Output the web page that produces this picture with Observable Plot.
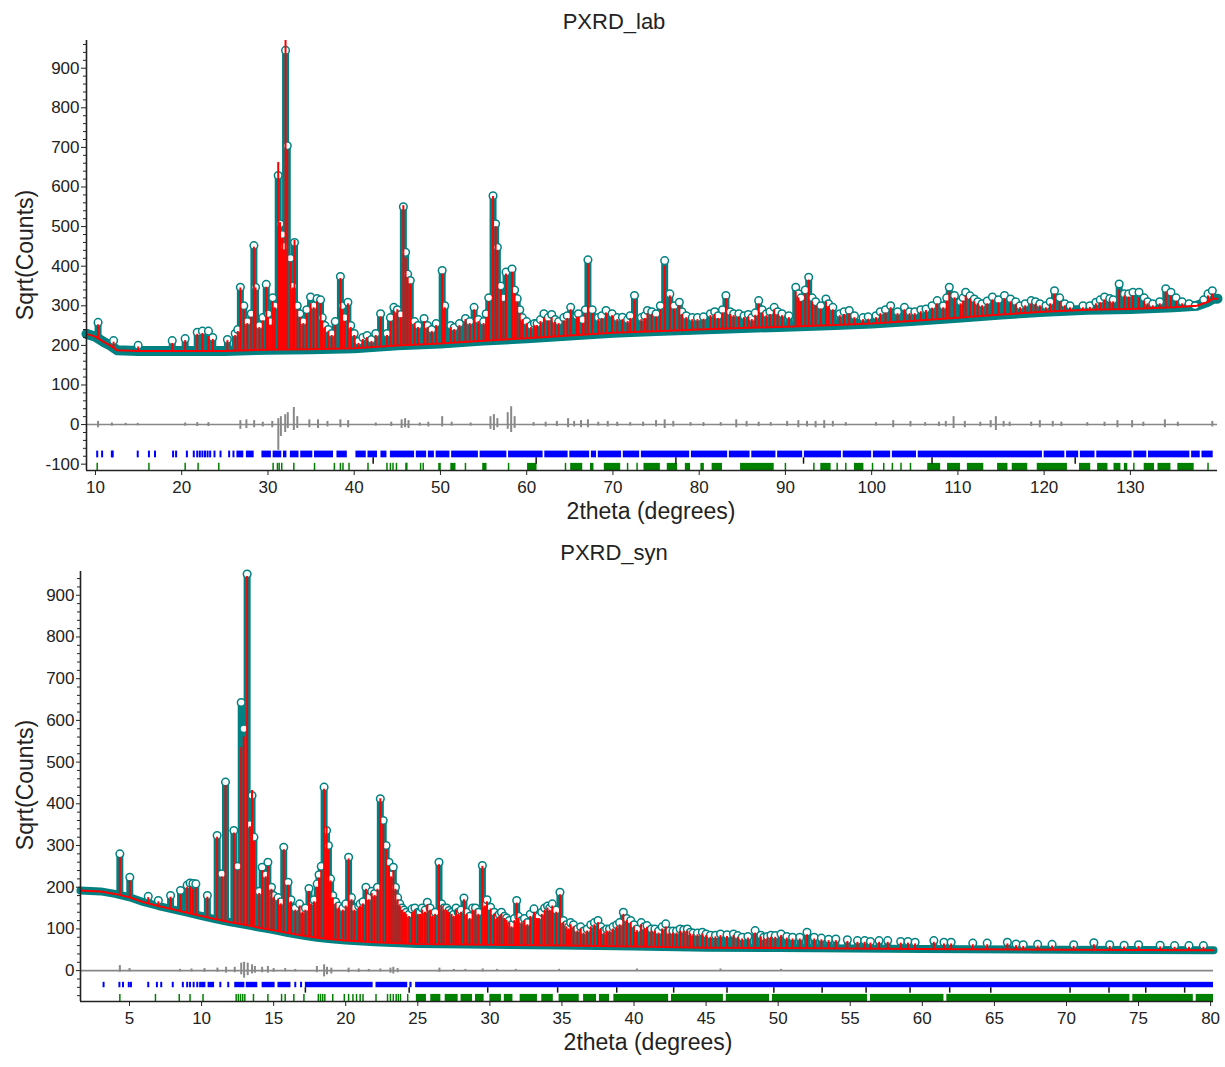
<!DOCTYPE html>
<html>
<head>
<meta charset="utf-8">
<script src="https://cdn.jsdelivr.net/npm/d3@7"></script>
<script src="https://cdn.jsdelivr.net/npm/@observablehq/plot@0.6"></script>
<style>
  body { margin: 0; background: #fff; font-family: "Liberation Sans", Arial, sans-serif; }
  #wrap { position: relative; width: 1225px; height: 1067px; overflow: hidden; }
  .panel { position: absolute; left: 0; }
  .lbl { position: absolute; color: #222; white-space: nowrap; transform: translate(-50%, -50%); font-size: 23px; }
  .rot { transform: translate(-50%, -50%) rotate(-90deg); }
</style>
</head>
<body>
<div id="wrap"></div>
<script>
// ---------------- PXRD_lab data ----------------
const labTitle = "PXRD_lab";
const labXTicks = [10, 20, 30, 40, 50, 60, 70, 80, 90, 100, 110, 120, 130];
const labYTicks = [-100, 0, 100, 200, 300, 400, 500, 600, 700, 800, 900];
// calculated background (2theta, sqrt counts)
const labBg = [[8.96,229],[10,222],[11,208],[11.7,200],[12.5,188],[15,186],[20,186],[25,186],[30,189],[35,190],[40,193],[45,200],[50,205],[55,212],[60,218],[65,225],[70,232],[75,236],[80,240],[85,244],[90,247],[95,251],[100,255],[105,262],[110,270],[115,278],[120,285],[125,290],[130,292],[135,296],[137.7,300],[139,310],[139.6,318],[140.1,318]];
// peaks: [2theta, observed top, calculated top]
const labPeaks = [[10.3,258,252],[12.1,212,208],[14.95,200,196],[18.9,212,205],[20.4,217,212],[21.8,233,228],[22.4,236,230],[23.1,236,222],[23.6,220,215],[25.3,215,212],[26.2,230,225],[26.5,240,235],[26.8,347,345],[27.2,300,290],[27.6,260,255],[28.06,280,271],[28.37,452,448],[28.56,347,345],[29.0,250,245],[29.4,270,262],[29.8,354,347],[30.0,280,270],[30.3,260,250],[30.55,320,310],[30.8,300,295],[31.19,629,662],[31.4,507,510],[31.66,480,470],[31.9,450,440],[32.04,945,975],[32.24,704,692],[32.6,420,410],[32.9,350,345],[33.08,460,465],[33.4,300,290],[33.7,280,270],[34.1,260,255],[34.5,290,280],[34.94,322,305],[35.3,300,295],[35.7,318,310],[36.1,315,305],[36.3,270,262],[36.6,250,245],[37.0,240,235],[37.4,230,225],[37.8,260,250],[38.4,374,369],[38.6,300,290],[38.9,270,260],[39.27,309,305],[39.6,250,245],[40.0,230,225],[40.5,210,205],[41.0,220,215],[41.5,225,220],[42.0,215,210],[42.5,230,225],[43.06,280,272],[43.8,230,225],[44.2,270,260],[44.6,296,285],[45.0,290,290],[45.4,278,270],[45.7,550,553],[45.96,435,420],[46.2,380,370],[46.5,364,355],[47.0,260,255],[47.4,250,245],[48.1,268,260],[48.5,250,245],[49.0,240,235],[49.5,255,250],[50.2,389,380],[50.5,300,295],[51.2,250,245],[51.6,245,240],[52.2,255,250],[52.9,268,265],[53.4,260,255],[53.9,296,290],[54.4,265,260],[55.0,260,255],[55.3,280,270],[55.6,320,310],[56.1,578,576],[56.4,507,500],[56.6,448,440],[57.0,350,340],[57.3,320,310],[57.6,385,380],[58.3,393,385],[58.6,340,330],[58.9,318,310],[59.2,290,280],[59.5,270,265],[60.0,260,255],[60.5,250,245],[60.9,255,250],[61.2,255,250],[61.6,265,260],[62.0,280,270],[62.5,270,262],[62.9,278,270],[63.3,265,258],[63.7,260,255],[64.3,270,262],[64.7,275,268],[65.1,296,290],[65.8,275,270],[66.0,280,272],[66.5,265,255],[66.8,290,280],[67.1,416,406],[67.6,290,280],[68.3,270,265],[68.7,275,268],[69.2,288,282],[69.9,280,275],[70.5,270,265],[71.1,271,265],[71.7,265,260],[72.0,275,268],[72.5,326,315],[73.3,270,265],[73.7,275,268],[74.0,288,280],[74.5,285,278],[75.0,280,272],[75.5,300,290],[76.0,414,400],[76.6,330,325],[77.1,300,292],[77.7,309,300],[78.0,285,278],[78.5,275,270],[79.2,270,265],[79.8,270,265],[80.5,272,266],[81.3,280,275],[81.8,285,278],[82.2,275,268],[82.7,290,282],[83.1,326,318],[83.6,285,278],[84.0,280,275],[84.6,280,272],[85.2,275,270],[85.7,278,272],[86.1,270,265],[86.5,282,276],[86.9,313,305],[87.3,290,282],[87.8,280,275],[88.2,285,278],[88.7,296,290],[89.1,285,278],[89.6,280,275],[90.4,275,270],[91.2,347,335],[91.5,330,320],[91.8,320,310],[92.3,340,330],[92.7,372,365],[93.1,320,310],[93.5,310,300],[94.1,300,292],[94.7,317,310],[95.0,305,298],[95.5,296,290],[96.3,280,275],[96.8,285,278],[97.4,288,280],[98.0,275,270],[99.0,270,265],[99.6,272,266],[100.5,275,270],[101.0,285,280],[101.6,290,282],[102.2,300,295],[103.0,285,280],[103.8,296,290],[104.4,285,280],[105.0,285,280],[105.7,290,285],[106.3,292,288],[107.0,300,294],[107.6,313,305],[108.3,300,295],[108.7,320,312],[109.0,347,335],[109.6,326,320],[110.3,310,305],[110.6,320,312],[110.9,334,325],[111.4,325,318],[111.9,317,310],[112.3,310,305],[112.8,305,300],[113.4,312,305],[114.0,322,315],[114.7,315,308],[115.4,326,318],[116.1,317,310],[116.7,310,304],[117.2,300,295],[117.8,305,300],[118.5,313,305],[119.0,310,304],[119.5,305,300],[120.2,300,295],[120.7,310,305],[121.2,338,330],[121.8,320,310],[122.4,305,300],[123.0,300,295],[124.5,300,295],[125.3,300,296],[126.0,309,305],[126.5,315,308],[127.0,322,315],[127.6,318,310],[128.0,315,310],[128.7,355,340],[129.3,330,325],[129.8,330,322],[130.3,334,325],[131.0,334,320],[131.6,320,312],[132.0,310,305],[132.6,305,300],[133.4,310,305],[134.1,343,335],[134.7,334,325],[135.3,320,312],[136.0,310,305],[136.8,305,300],[137.5,300,296],[138.5,315,308],[139.0,330,325],[139.5,338,330]];
// difference curve spikes: [2theta, low, high]
const labDiff = [[10.3,-8,8],[11.9,-4,4],[13.5,-3,3],[14.9,-3,3],[20.4,-4,4],[21.8,-5,5],[23.1,-5,5],[26.8,-12,10],[27.5,-10,12],[28.4,-8,10],[29.4,-6,6],[30.5,-8,8],[31.2,-65,15],[31.5,-30,20],[32.0,-20,25],[32.3,-10,30],[33.0,-15,43],[33.4,-10,20],[34.8,-8,12],[35.8,-10,12],[36.9,-6,8],[38.4,-8,12],[39.3,-8,10],[42.5,-4,4],[44.3,-5,6],[45.5,-10,12],[45.9,-8,15],[46.3,-10,10],[47.6,-4,4],[48.6,-6,6],[50.2,-6,20],[51.3,-4,6],[53.5,-4,4],[55.8,-12,20],[56.2,-15,25],[56.6,-8,15],[57.8,-12,30],[58.2,-20,45],[58.6,-10,20],[60.8,-4,5],[62.2,-6,6],[63.5,-5,8],[64.8,-8,15],[65.5,-6,8],[66.3,-8,10],[67.1,-8,12],[68.3,-4,6],[69.4,-6,8],[70.5,-5,6],[72.0,-4,5],[73.5,-5,6],[75.0,-6,10],[76.0,-10,12],[77.0,-6,8],[79.0,-4,5],[80.5,-5,5],[82.5,-4,5],[84.3,-8,12],[85.5,-6,8],[86.9,-5,6],[88.3,-4,5],[90.2,-5,8],[91.5,-8,10],[92.5,-6,8],[93.5,-8,8],[94.5,-10,10],[95.5,-6,8],[97.0,-4,5],[100.5,-4,5],[102.5,-8,10],[104.5,-6,8],[106.2,-4,5],[107.8,-5,6],[108.6,-6,8],[109.5,-10,20],[110.8,-8,8],[112.6,-5,6],[113.8,-8,10],[114.4,-15,20],[115.3,-6,8],[116.0,-5,6],[118.5,-5,6],[119.5,-8,10],[121.0,-6,8],[122.0,-5,6],[125.0,-4,5],[127.0,-5,6],[128.5,-8,10],[130.2,-8,10],[131.5,-5,6],[134.0,-8,12],[135.5,-5,6],[139.5,-6,8]];
// reflection markers
const labBlueTicks = [10.2,10.77,11.9,12.0,14.9,16.2,16.9,19.0,19.35,20.6,21.4,21.8,22.1,22.4,22.7,23.0,23.3,23.8,24.5,25.5,26.0];
const labBlueSegs = [[26.4,27.2],[27.5,28.4],[29.3,30.4],[30.6,31.6],[31.8,32.2],[32.6,33.6],[33.8,35.2],[35.4,37.6],[38.0,39.2],[40.2,41.4],[41.6,42.7],[43.1,43.8],[44.2,47.0],[47.2,48.4],[48.6,49.3],[49.5,51.1],[51.3,54.4],[54.6,57.7],[57.9,61.9],[62.1,64.8],[65.0,67.3],[67.5,68.1],[68.3,71.0],[71.2,73.1],[73.3,78.9],[79.1,83.3],[83.5,85.9],[86.1,88.9],[89.1,92.0],[92.2,96.5],[96.7,100.0],[100.2,102.2],[102.4,105.2],[105.4,119.8],[120.0,122.4],[122.6,124.0],[124.2,125.9],[126.1,130.2],[130.4,131.9],[132.1,136.9],[137.1,138.1],[138.3,139.6]];
const labGreenTicks = [10.2,16.2,20.4,21.9,24.3,30.6,31.1,31.3,31.6,33.0,35.4,37.7,38.4,38.7,39.4,41.6,43.8,44.2,44.5,44.9,46.0,46.1,47.7,48.0,52.9,57.9,64.5,71.7,72.8,90.0,93.3,96.0,97.0,100.1,101.4,102.4,103.4,104.5,130.4,139.0];
const labGreenSegs = [[49.8,50.1],[51.2,51.8],[54.9,55.4],[60.1,61.2],[65.1,66.5],[67.4,67.8],[69.0,70.9],[73.6,75.5],[76.3,77.5],[78.4,79.0],[80.2,80.6],[81.5,82.7],[84.8,88.7],[94.1,95.3],[98.0,99.1],[106.5,108.0],[108.8,110.3],[111.1,113.0],[114.6,115.8],[116.3,118.1],[119.2,122.7],[124.1,125.4],[126.2,127.4],[128.1,128.9],[129.3,129.7],[131.6,132.8],[133.2,134.7],[135.5,137.4]];
const labBlackTicks = [42.2,61.1,77.3,92.1,107.0,123.6];

// ---------------- PXRD_syn data ----------------
const synTitle = "PXRD_syn";
const synXTicks = [5, 10, 15, 20, 25, 30, 35, 40, 45, 50, 55, 60, 65, 70, 75, 80];
const synYTicks = [0, 100, 200, 300, 400, 500, 600, 700, 800, 900];
const synBg = [[1.6,192],[3,190],[4,184],[5,176],[6,164],[7,155],[8,147],[9,139],[10,131],[11,123],[12,116],[13,110],[14,103],[15,97],[16,90],[17,84],[18,79],[19,75],[20,72],[22,68],[25,64],[30,62],[35,60],[40,58],[45,55],[50,54],[55,53],[60,52],[70,50],[80.2,49]];
const synPeaks = [[4.33,280,271],[5.02,224,215],[6.3,178,175],[7.0,168,165],[7.85,180,176],[8.54,192,182],[9.0,205,200],[9.2,210,200],[9.4,209,195],[9.6,208,198],[10.4,180,176],[11.08,324,320],[11.4,232,225],[11.66,452,444],[12.24,336,330],[12.5,250,240],[12.75,643,535],[12.93,580,560],[13.16,951,945],[13.35,350,345],[13.5,420,432],[13.63,320,310],[14.0,190,185],[14.2,248,240],[14.45,230,225],[14.6,260,250],[14.85,200,195],[15.0,180,175],[15.3,175,170],[15.5,165,160],[15.7,296,290],[16.0,212,205],[16.2,170,165],[16.5,150,145],[16.8,160,155],[17.0,145,140],[17.2,150,145],[17.45,197,190],[17.6,165,160],[17.8,170,165],[18.02,208,200],[18.15,230,222],[18.3,250,240],[18.5,440,435],[18.67,336,344],[18.8,300,290],[18.95,220,215],[19.1,180,175],[19.3,165,160],[19.5,155,150],[19.8,150,145],[20.0,160,155],[20.2,272,268],[20.4,175,170],[20.6,150,145],[20.9,155,150],[21.0,160,155],[21.2,165,160],[21.4,200,195],[21.6,176,170],[21.8,190,185],[22.0,185,180],[22.2,200,195],[22.4,412,412],[22.6,360,350],[22.8,300,290],[23.0,260,250],[23.15,230,225],[23.3,248,240],[23.45,200,195],[23.6,175,170],[23.75,160,155],[23.9,150,145],[24.05,145,140],[24.2,140,135],[24.4,135,130],[24.6,148,140],[24.8,150,145],[25.0,140,135],[25.15,140,135],[25.3,150,145],[25.5,145,140],[25.66,164,158],[25.85,150,145],[26.0,135,130],[26.2,140,135],[26.47,260,254],[26.65,160,155],[26.8,150,145],[27.0,150,145],[27.16,144,140],[27.35,140,135],[27.5,135,130],[27.65,150,145],[27.8,140,135],[28.0,145,140],[28.2,174,170],[28.4,140,135],[28.6,130,125],[28.8,150,145],[29.0,150,145],[29.2,140,135],[29.48,252,250],[29.65,160,155],[29.8,170,165],[30.05,152,148],[30.3,140,135],[30.5,130,125],[30.65,135,130],[30.8,140,135],[31.0,130,125],[31.16,126,120],[31.35,120,115],[31.5,110,105],[31.7,125,120],[31.86,168,162],[32.0,130,125],[32.2,120,115],[32.4,125,120],[32.6,115,110],[32.8,135,130],[33.06,148,140],[33.25,130,125],[33.4,130,125],[33.6,140,135],[33.8,150,145],[34.0,155,150],[34.15,150,145],[34.33,160,155],[34.6,145,140],[34.86,188,182],[35.1,120,115],[35.3,110,105],[35.45,105,100],[35.6,115,110],[35.8,110,105],[36.07,100,95],[36.3,105,100],[36.5,95,90],[36.75,100,95],[37.0,110,105],[37.25,115,110],[37.5,120,115],[37.7,105,100],[37.9,95,90],[38.1,100,95],[38.3,100,95],[38.55,105,100],[38.8,110,105],[39.0,115,110],[39.26,140,135],[39.5,125,120],[39.77,120,115],[40.0,110,105],[40.2,100,96],[40.5,115,110],[40.7,105,100],[40.9,108,104],[41.2,100,95],[41.45,100,95],[41.7,95,90],[41.95,105,100],[42.2,112,105],[42.45,95,90],[42.7,95,90],[42.95,95,90],[43.2,100,95],[43.45,98,94],[43.7,100,95],[43.9,92,88],[44.1,90,86],[44.4,90,86],[44.74,92,88],[45.0,88,84],[45.3,85,80],[45.65,85,81],[46.0,88,84],[46.45,86,82],[46.9,88,84],[47.2,84,80],[47.5,80,76],[47.9,82,78],[48.4,96,90],[48.8,85,81],[49.0,80,76],[49.25,82,78],[49.5,85,80],[49.8,84,80],[50.2,88,84],[50.6,82,78],[51.0,80,76],[51.5,80,76],[52.0,92,86],[52.5,80,76],[53.0,78,74],[53.5,75,72],[54.0,76,72],[54.8,74,70],[55.5,72,68],[56.0,72,68],[56.4,70,66],[57.0,72,68],[57.6,72,68],[58.5,70,66],[59.0,70,66],[59.5,68,64],[60.8,72,68],[61.5,68,64],[62.0,68,64],[63.5,66,62],[64.5,66,62],[65.9,68,64],[66.5,64,60],[67.0,62,58],[68.0,63,59],[69.0,63,59],[70.5,62,58],[71.9,67,62],[73.0,62,58],[74.0,61,57],[75.0,62,58],[76.5,61,57],[77.5,60,56],[78.5,60,56],[79.5,60,56]];
const synDiff = [[4.33,-4,12],[5.0,-3,5],[8.5,-3,3],[9.3,-3,4],[10.2,-4,5],[11.1,-4,6],[11.7,-6,8],[12.3,-5,8],[12.75,-10,18],[12.95,-18,20],[13.2,-12,18],[13.5,-8,14],[13.7,-6,10],[14.2,-5,8],[14.6,-6,10],[15.0,-4,5],[15.8,-3,5],[16.5,-3,3],[18.0,-5,10],[18.5,-15,14],[18.7,-10,8],[19.0,-8,6],[20.2,-5,6],[20.9,-4,4],[21.6,-3,3],[22.4,-3,4],[23.1,-6,6],[23.3,-8,8],[23.6,-5,5],[26.5,-4,6],[27.5,-2,3],[28.3,-2,3],[29.5,-3,4],[30.5,-2,3],[31.8,-2,3],[34.8,-2,3],[40.2,-2,4],[46.0,-2,4],[50.2,-2,3]];
const synBlueTicks = [3.2,4.3,4.55,4.95,5.1,6.3,6.9,7.2,8.0,8.7,9.0,9.2,9.45,9.7,9.9,11.3,11.85,16.5,16.9];
const synBlueSegs = [[10.0,10.3],[10.45,10.9],[12.3,13.0],[13.1,13.9],[14.2,15.1],[15.3,16.2],[17.2,21.9],[22.1,24.3],[24.45,24.6],[24.85,80.2]];
const synGreenTicks = [4.33,6.8,8.45,9.2,10.1,12.4,12.55,12.7,12.85,13.0,13.6,14.6,15.55,15.8,16.4,17.1,18.1,18.25,18.4,18.55,19.1,19.9,20.2,20.5,20.75,21.0,21.2,22.1,22.9,23.1,23.3,23.5,23.65,23.8,24.3];
const synGreenSegs = [[24.9,25.6],[25.9,26.6],[26.9,27.8],[28.0,28.8],[29.0,29.6],[30.0,30.8],[31.0,31.6],[32.1,33.3],[33.6,34.4],[34.8,36.2],[36.5,37.4],[37.6,38.3],[38.6,42.4],[42.6,46.2],[46.4,49.4],[49.6,56.2],[56.4,61.5],[61.7,74.4],[74.6,78.8],[79.0,80.2]];
const synBlackTicks = [17.2,24.4,29.85,34.7,38.8,42.75,46.45,49.7,53.05,56.1,59.15,61.9,64.75,70.25,72.95,75.5,78.2];

// ---------------- drawing ----------------
const TEAL = "#008080", RED = "#ff0000", GRAY = "#888888", BLUE = "#0000ff", GREEN = "#008000", INK = "#222";

function panel(cfg) {
  const bgScale = d3.scaleLinear().domain(cfg.bg.map(d => d[0])).range(cfg.bg.map(d => d[1]));
  const peaks = cfg.peaks.map(([x, o, c]) => ({x, o, c, b: bgScale(x)}));
  const [xmin, xmax] = cfg.xDomain, [ymin, ymax] = cfg.yDomain;
  const minor = d3.range(Math.ceil(ymin / 20) * 20, ymax, 20).filter(v => v % 100 !== 0);
  return Plot.plot({
    width: 1225, height: cfg.height,
    marginTop: cfg.mt, marginBottom: cfg.mb, marginLeft: cfg.ml, marginRight: cfg.mr,
    style: {fontFamily: '"Liberation Sans", Arial, sans-serif', fontSize: "17px", color: INK, background: "white"},
    x: {domain: cfg.xDomain},
    y: {domain: cfg.yDomain},
    marks: [
      // observed data band and peak columns
      Plot.line(cfg.bg, {x: d => d[0], y: d => d[1], stroke: TEAL, strokeWidth: cfg.band}),
      Plot.ruleX(peaks, {x: "x", y1: "b", y2: "o", stroke: TEAL, strokeWidth: 7}),
      Plot.dot(peaks, {x: "x", y: "o", r: 3.8, stroke: TEAL, fill: "white", strokeWidth: 1.5}),
      // calculated profile
      Plot.line(cfg.bg, {x: d => d[0], y: d => d[1], stroke: RED, strokeWidth: 2}),
      Plot.ruleX(peaks, {x: "x", y1: "b", y2: "c", stroke: RED, strokeWidth: 2, clip: true}),
      // difference
      Plot.ruleY([0], {stroke: GRAY, strokeWidth: 1.6}),
      Plot.ruleX(cfg.diff, {x: d => d[0], y1: d => d[1], y2: d => d[2], stroke: GRAY, strokeWidth: 2}),
      // reflection markers
      Plot.rect(cfg.blueSegs, {x1: d => d[0], x2: d => d[1], y1: cfg.blueRow[0], y2: cfg.blueRow[1], fill: BLUE}),
      Plot.ruleX(cfg.blueTicks, {x: d => d, y1: cfg.blueRow[0], y2: cfg.blueRow[1], stroke: BLUE, strokeWidth: 2}),
      Plot.rect(cfg.greenSegs, {x1: d => d[0], x2: d => d[1], y1: cfg.greenRow[0], y2: cfg.greenRow[1], fill: GREEN}),
      Plot.ruleX(cfg.greenTicks, {x: d => d, y1: cfg.greenRow[0], y2: cfg.greenRow[1], stroke: GREEN, strokeWidth: 1.5}),
      Plot.ruleX(cfg.blackTicks, {x: d => d, y1: cfg.blackRow[0], y2: cfg.blackRow[1], stroke: "#111", strokeWidth: 1.5}),
      // axes
      Plot.ruleX([xmin], {stroke: INK, strokeWidth: 1.6}),
      Plot.ruleY([ymin], {stroke: INK, strokeWidth: 1.6}),
      Plot.axisY({ticks: cfg.yTicks, tickSize: cfg.yTickSize, tickPadding: 2, tickFormat: d => String(d), label: null, stroke: INK}),
      Plot.axisY({ticks: minor, tickSize: 3, tickFormat: () => "", label: null, stroke: INK}),
      Plot.axisX({ticks: cfg.xTicks, tickSize: 5, tickPadding: 5, tickFormat: d => String(d), label: null, stroke: INK})
    ]
  });
}

const wrap = document.getElementById("wrap");
function place(node, top) {
  node.classList.add("panel");
  node.style.top = top + "px";
  wrap.appendChild(node);
}
function label(text, cx, cy, rot, size) {
  const d = document.createElement("div");
  d.className = "lbl" + (rot ? " rot" : "");
  d.textContent = text;
  d.style.left = cx + "px";
  d.style.top = cy + "px";
  if (size) d.style.fontSize = size + "px";
  wrap.appendChild(d);
}

place(panel({
  height: 530, mt: 40, mb: 60, ml: 86, mr: 8,
  xDomain: [8.96, 140.1], yDomain: [-116, 970],
  xTicks: labXTicks, yTicks: labYTicks, yTickSize: 5,
  bg: labBg, peaks: labPeaks, diff: labDiff, band: 10,
  blueTicks: labBlueTicks, blueSegs: labBlueSegs, blueRow: [-67, -84],
  greenTicks: labGreenTicks, greenSegs: labGreenSegs, greenRow: [-98, -116],
  blackTicks: labBlackTicks, blackRow: [-84, -100]
}), 0);

place(panel({
  height: 537, mt: 41, mb: 66, ml: 80, mr: 12,
  xDomain: [1.6, 80.2], yDomain: [-74, 957],
  xTicks: synXTicks, yTicks: synYTicks, yTickSize: 4,
  bg: synBg, peaks: synPeaks, diff: synDiff, band: 8,
  blueTicks: synBlueTicks, blueSegs: synBlueSegs, blueRow: [-28, -41],
  greenTicks: synGreenTicks, greenSegs: synGreenSegs, greenRow: [-57, -74],
  blackTicks: synBlackTicks, blackRow: [-41, -54]
}), 530);

label(labTitle, 614, 22, false, 22);
label("Sqrt(Counts)", 25, 255, true, 23);
label("2theta (degrees)", 651, 511, false, 23);
label(synTitle, 614, 553, false, 22);
label("Sqrt(Counts)", 25, 785, true, 23);
label("2theta (degrees)", 648, 1042, false, 23);
</script>
</body>
</html>
